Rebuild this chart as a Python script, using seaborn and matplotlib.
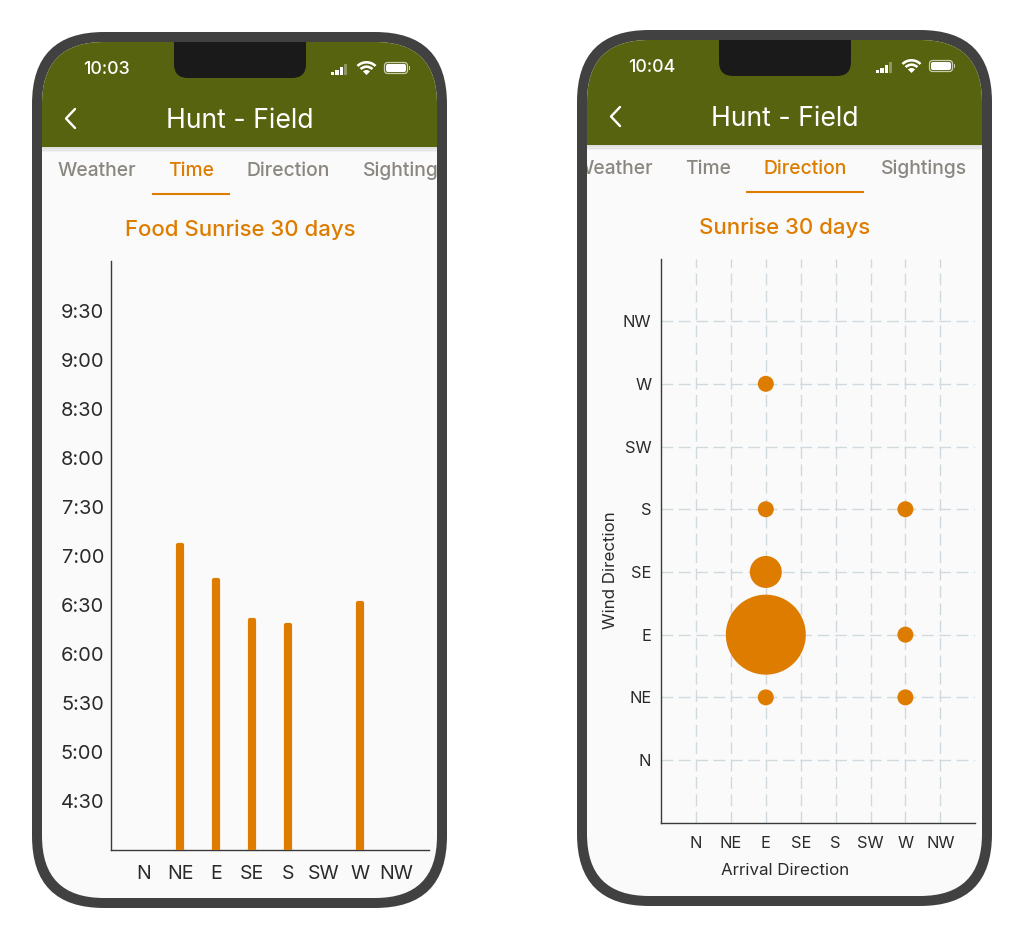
import matplotlib
matplotlib.use("Agg")
import matplotlib.pyplot as plt
from matplotlib.patches import FancyBboxPatch, Rectangle, Wedge
import numpy as np
import pandas as pd
import seaborn as sns

# ---------- data ----------
directions = ["N", "NE", "E", "SE", "S", "SW", "W", "NW"]
time_minutes = [np.nan, 427, 405, 381, 378, np.nan, 391, np.nan]
time_ticks = [270, 300, 330, 360, 390, 420, 450, 480, 510, 540, 570]
time_labels = ["4:30", "5:00", "5:30", "6:00", "6:30", "7:00", "7:30", "8:00", "8:30", "9:00", "9:30"]
wind = ["W", "S", "S", "SE", "E", "E", "NE", "NE"]
arrival = ["E", "E", "W", "E", "E", "W", "E", "W"]
counts = [1, 1, 1, 4, 25, 1, 1, 1]

ORANGE = "#de7c00"
GREEN = "#586310"
FRAME = "#414141"
SCREEN = "#fafafa"
NOTCH = "#1a1a1a"
GREY = "#8b8780"
INK = "#2a2a2a"
W, H = 1024, 941
PX = 0.72  # points per pixel at dpi 100

sns.set_theme(style="white")
plt.rcParams["font.family"] = ["Inter", "DejaVu Sans"]

fig = plt.figure(figsize=(W / 100, H / 100), dpi=100, facecolor="white")
bg = fig.add_axes([0, 0, 1, 1], zorder=0)
bg.set_xlim(0, W)
bg.set_ylim(H, 0)
bg.axis("off")


def phone(dx, dy, clock, tabs, underline, title):
    outer = FancyBboxPatch((32 + dx, 32 + dy), 415, 876, boxstyle="round,pad=0,rounding_size=72",
                           fc=FRAME, ec="none", zorder=1)
    bg.add_patch(outer)
    screen = FancyBboxPatch((42 + dx, 42 + dy), 395, 856, boxstyle="round,pad=0,rounding_size=62",
                            fc=SCREEN, ec="none", zorder=2)
    bg.add_patch(screen)
    # header and soft shadow
    for i, a in enumerate([0.10, 0.06, 0.03]):
        r = Rectangle((42 + dx, 147 + dy + i * 1.5), 395, 2, fc="black", ec="none", alpha=a, zorder=3)
        bg.add_patch(r)
        r.set_clip_path(screen)
    head = Rectangle((42 + dx, 42 + dy), 395, 105, fc=GREEN, ec="none", zorder=3)
    bg.add_patch(head)
    head.set_clip_path(screen)
    # notch
    bg.add_patch(FancyBboxPatch((174 + dx, 42 + dy), 132, 36, boxstyle="round,pad=0,rounding_size=14",
                                fc=NOTCH, ec="none", zorder=4))
    bg.add_patch(Rectangle((174 + dx, 42 + dy), 132, 16, fc=NOTCH, ec="none", zorder=4))
    # status bar
    bg.text(106.5 + dx, 69.5 + dy, clock, color="white", fontsize=12.8, ha="center", va="center",
            zorder=5, fontweight="medium")
    for i, (bh, col) in enumerate(zip([3, 5, 8, 11], ["white", "white", "white", "#8f9560"])):
        bg.add_patch(Rectangle((331 + dx + i * 4.4, 75 + dy - bh), 3.2, bh, fc=col, ec="none", zorder=5))
    bg.add_patch(Wedge((366.5 + dx, 75 + dy), 14, 225, 315, width=2.6, fc="white", ec="none", zorder=5))
    bg.add_patch(Wedge((366.5 + dx, 75 + dy), 9.6, 225, 315, width=2.6, fc="white", ec="none", zorder=5))
    bg.add_patch(Wedge((366.5 + dx, 75 + dy), 5, 225, 315, fc="white", ec="none", zorder=5))
    bg.add_patch(FancyBboxPatch((384.5 + dx, 62.5 + dy), 23, 11, boxstyle="round,pad=0,rounding_size=3",
                                fc="none", ec="#c8cbb0", lw=0.9, zorder=5))
    bg.add_patch(FancyBboxPatch((386 + dx, 64 + dy), 20, 8, boxstyle="round,pad=0,rounding_size=2",
                                fc="white", ec="none", zorder=5))
    bg.add_patch(Rectangle((408.5 + dx, 66 + dy), 1.3, 4, fc="#c8cbb0", ec="none", zorder=5))
    # back chevron and heading
    bg.plot(np.array([75, 66, 75]) + dx, np.array([109, 118.5, 128]) + dy, color="white", lw=1.7,
            solid_capstyle="round", solid_joinstyle="round", zorder=5)
    bg.text(240 + dx, 120.5 + dy, "Hunt - Field", color="white", fontsize=19.2, ha="center", va="center", zorder=5)
    # tabs, cut off at the screen edges
    window = Rectangle((42 + dx, 42 + dy), 395, 856, transform=bg.transData)
    for label, x, col in tabs:
        t = bg.text(x + dx, 171 + dy, label, color=col, fontsize=13.9, ha="center", va="center",
                    zorder=5, fontweight="medium")
        t.set_clip_on(True)
        t.set_clip_path(window)
    bg.plot(np.array(underline) + dx, [194 + dy, 194 + dy], color=ORANGE, lw=1.5, zorder=5,
            solid_capstyle="butt")
    bg.text(240 + dx, 229.5 + dy, title, color=ORANGE, fontsize=16, ha="center", va="center",
            zorder=5, fontweight="medium")


phone(0, 0, "10:03",
      [("Weather", 97, GREY), ("Time", 191, ORANGE), ("Direction", 288, GREY), ("Sightings", 406, GREY)],
      (152, 230), "Food Sunrise 30 days")
phone(545, -2, "10:04",
      [("Weather", 69, GREY), ("Time", 163, GREY), ("Direction", 260, ORANGE), ("Sightings", 379, GREY)],
      (201, 319), "Sunrise 30 days")


def chart_axes(x0, y0, x1, y1):
    ax = fig.add_axes([x0 / W, 1 - y1 / H, (x1 - x0) / W, (y1 - y0) / H], zorder=3)
    ax.patch.set_alpha(0)
    for s in ["top", "right"]:
        ax.spines[s].set_visible(False)
    for s in ["left", "bottom"]:
        ax.spines[s].set_color("#3a3a3a")
        ax.spines[s].set_linewidth(1.0)
    return ax


# ---------- left: bar chart ----------
ax1 = chart_axes(111, 261, 429, 850)
df1 = pd.DataFrame({"dir": directions, "minutes": time_minutes})
sns.barplot(data=df1, x="dir", y="minutes", order=directions, color=ORANGE, saturation=1,
            width=0.11, ax=ax1, zorder=3, edgecolor=ORANGE, linewidth=3.0)
for bar in ax1.patches:
    bar.set_joinstyle("round")
ax1.set_xlim(-0.917, 7.917)
ax1.set_ylim(240, 600.6)
ax1.set_yticks(time_ticks, time_labels)
ax1.set_xlabel("")
ax1.set_ylabel("")
ax1.tick_params(axis="y", length=0, pad=5, labelsize=14.4, labelcolor=INK)
ax1.tick_params(axis="x", length=0, pad=10.5, labelsize=14, labelcolor=INK)

# ---------- right: bubble chart ----------
ax2 = chart_axes(661, 259, 975, 823)
df2 = pd.DataFrame({"wind": [directions.index(d) for d in wind],
                    "arrival": [directions.index(d) for d in arrival],
                    "count": counts})
area = {c: (16 * PX) ** 2 * c for c in set(counts)}
ax2.set_axisbelow(True)
ax2.grid(True, color="#cfd9de", lw=1.0, ls=(0, (8.5, 4)))
sns.scatterplot(data=df2, x="arrival", y="wind", size="count", sizes=area, color=ORANGE, linewidth=0,
                alpha=1, legend=False, ax=ax2, zorder=3, clip_on=False)
ax2.set_xlim(-1.003, 7.994)
ax2.set_ylim(-1.003, 7.99)
ax2.set_xticks(range(8), directions)
ax2.set_yticks(range(8), directions)
ax2.set_xlabel("Arrival Direction", fontsize=12.2, color=INK)
ax2.set_ylabel("Wind Direction", fontsize=12.2, color=INK)
ax2.xaxis.set_label_coords((785 - 661) / 314, (823 - 863) / 564)
ax2.yaxis.set_label_coords((618 - 661) / 314, (823 - 570) / 564)
ax2.tick_params(axis="both", length=0, pad=7, labelsize=11.8, labelcolor=INK)
ax2.tick_params(axis="x", pad=9.5)

fig.savefig("out.png", dpi=100, facecolor="white")
